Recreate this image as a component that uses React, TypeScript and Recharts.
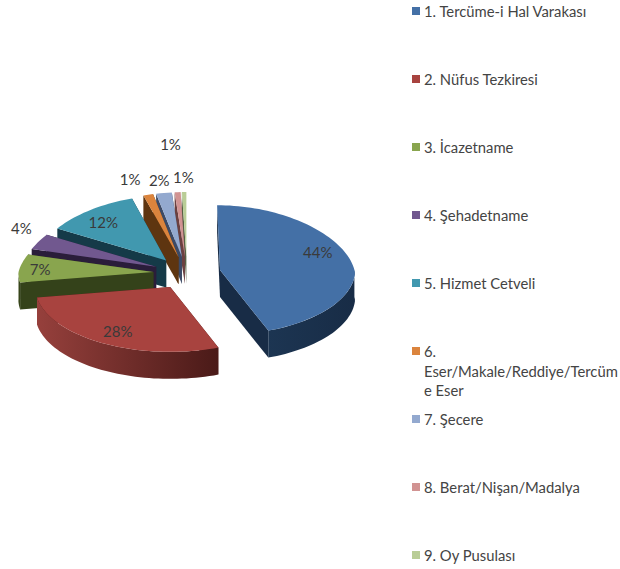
import { Legend, Pie, PieChart } from 'recharts';

const categories = [
  '1. Tercüme-i Hal Varakası',
  '2. Nüfus Tezkiresi',
  '3. İcazetname',
  '4. Şehadetname',
  '5. Hizmet Cetveli',
  '6.\nEser/Makale/Reddiye/Tercüm\ne Eser',
  '7. Şecere',
  '8. Berat/Nişan/Madalya',
  '9. Oy Pusulası'
];
const shares = [44.2, 28.2, 7.0, 3.8, 12.0, 1.3, 2.1, 0.8, 0.6];
const labels = ['44%', '28%', '7%', '4%', '12%', '1%', '2%', '1%', '1%'];

const topColors = ['#4470a6', '#a8433f', '#89a54e', '#71588f', '#4198af', '#db843d', '#93a9cf', '#d19392', '#b9cd96'];
const wallLight = ['#1c3552', '#96403c', '#3c4a1c', '#2e2140', '#17404f', '#5e3510', '#3c4a66', '#6b4040', '#566045'];
const wallDark = ['#182c46', '#4a1a18', '#34421a', '#2a1d3a', '#153a48', '#5e3510', '#3c4a66', '#6b4040', '#566045'];
const labelShift = [
  [-2, -9],
  [-2, 2],
  [-12, 0],
  [-41, -20],
  [1, -1],
  [-22, -31],
  [-7, -29],
  [-8, -64],
  [-1, -31]
];

// Excel draws the slices clockwise; listing them backwards gets the paint order right (front slices last)
const pieData = categories
  .map((name, i) => ({ name, value: shares[i], fill: topColors[i], order: i }))
  .reverse();

const TILT = 0.48;
const EXPLODE = 0.25;
const DEPTH = 27;
const PERSPECTIVE = 0.1;
const RAD = Math.PI / 180;

// only the back half narrows, the front keeps its full width
function project(cx: number, cy: number, r: number, u: number, v: number) {
  const s = 1 / (1 + PERSPECTIVE * Math.max(v, 0));
  return [cx + r * u * s, cy - r * TILT * v];
}

function SliceShape(props: any) {
  const { cx, cy, outerRadius: r, startAngle, endAngle, midAngle, fill, payload } = props;
  const order = payload?.order ?? props.order;
  const offU = EXPLODE * Math.cos(midAngle * RAD);
  const offV = EXPLODE * Math.sin(midAngle * RAD);
  const at = (deg: number, radius = 1) =>
    project(cx, cy, r, offU + radius * Math.cos(deg * RAD), offV + radius * Math.sin(deg * RAD));
  const arc = (from: number, to: number) => {
    const pts = [];
    const steps = Math.max(1, Math.ceil(Math.abs(to - from) / 2));
    for (let i = 0; i <= steps; i++) pts.push(at(from + ((to - from) * i) / steps));
    return pts;
  };
  const toPath = (pts: number[][]) => 'M' + pts.map(p => `${p[0].toFixed(1)},${p[1].toFixed(1)}`).join('L') + 'Z';
  const drop = (p: number[]) => [p[0], p[1] + DEPTH];

  const apex = at(0, 0);
  const cutWall = (deg: number) => {
    const rim = at(deg);
    return toPath([apex, rim, drop(rim), drop(apex)]);
  };
  const lo = Math.max(startAngle, 180);
  const hi = Math.min(endAngle, 360);
  const rimPts = lo < hi ? arc(lo, hi) : null;
  const gradId = `rim-${order}`;

  return (
    <g>
      <defs>
        <linearGradient id={gradId} x1='0' x2='1' y1='0' y2='0'>
          <stop offset='0%' stopColor={wallLight[order]} />
          <stop offset='100%' stopColor={wallDark[order]} />
        </linearGradient>
      </defs>
      <path d={cutWall(startAngle)} fill={wallDark[order]} />
      <path d={cutWall(endAngle)} fill={wallDark[order]} />
      {rimPts && <path d={toPath([...rimPts, ...rimPts.map(drop).reverse()])} fill={`url(#${gradId})`} />}
      <path d={toPath([apex, ...arc(startAngle, endAngle)])} fill={fill} />
    </g>
  );
}

function renderLabel(props: any) {
  const { cx, cy, outerRadius: r, midAngle, payload } = props;
  const order = payload?.order ?? props.order;
  const [dx, dy] = labelShift[order];
  return (
    <text
      dominantBaseline='central'
      fill='#3a3a3a'
      fontFamily='Lato'
      fontSize={15}
      key={order}
      textAnchor='middle'
      x={cx + r * Math.cos(midAngle * RAD) + dx}
      y={cy - r * TILT * Math.sin(midAngle * RAD) + dy}
    >
      {labels[order]}
    </text>
  );
}

function LegendList() {
  return (
    <div style={{ position: 'relative', width: 620, height: 569 }}>
      {categories.map((name, i) => (
        <div key={name}>
          <div
            style={{
              position: 'absolute',
              left: 412,
              top: 7 + i * 68,
              width: 8,
              height: 8,
              background: topColors[i]
            }}
          />
          <div
            style={{
              position: 'absolute',
              left: 424,
              top: 2 + i * 68,
              color: '#444',
              fontFamily: 'Lato',
              fontSize: 14.8,
              lineHeight: '19.5px',
              whiteSpace: 'pre',
              textAlign: 'left'
            }}
          >
            {name}
          </div>
        </div>
      ))}
    </div>
  );
}

export default function App() {
  return (
    <div style={{ position: 'absolute', left: 0, top: 0, width: 620, height: 569, background: '#fff' }}>
      <PieChart height={569} margin={{ top: 0, right: 0, bottom: 0, left: 0 }} width={620}>
        <Pie
          activeShape={SliceShape}
          cx={187}
          cy={273}
          data={pieData}
          dataKey='value'
          endAngle={450}
          inactiveShape={SliceShape}
          isAnimationActive={false}
          label={renderLabel}
          labelLine={false}
          nameKey='name'
          outerRadius={135}
          shape={SliceShape}
          startAngle={90}
          stroke='none'
        />
        <Legend content={<LegendList />} wrapperStyle={{ left: 0, top: 0, width: 620, height: 569 }} />
      </PieChart>
    </div>
  );
}
